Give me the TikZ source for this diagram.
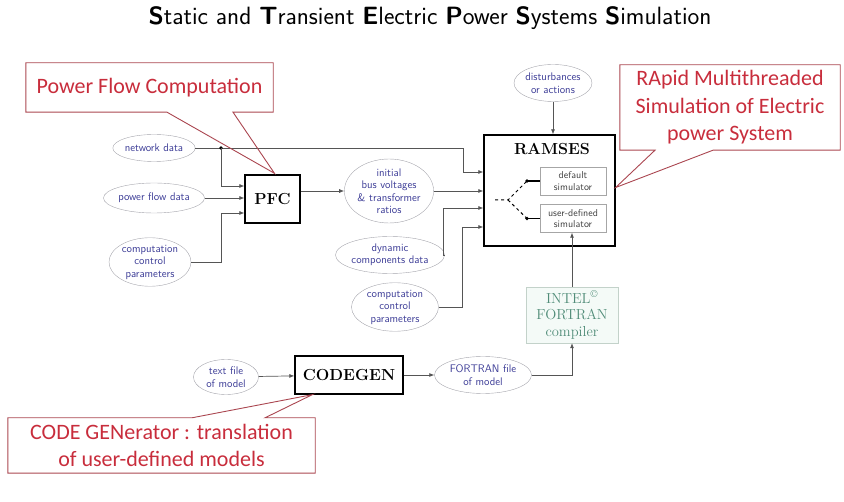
\documentclass[tikz,border=0pt]{standalone}
\usepackage{fontspec}
\newfontfamily\calibri{Carlito}
\usetikzlibrary{shapes.geometric, arrows.meta, calc}
\definecolor{inkblue}{RGB}{60, 60, 150}
\definecolor{ovalgray}{RGB}{165, 165, 172}
\definecolor{wiregray}{RGB}{85, 85, 85}
\definecolor{noteborder}{RGB}{170, 70, 80}
\definecolor{notetext}{RGB}{200, 45, 60}
\definecolor{inteltext}{RGB}{80, 140, 120}
\definecolor{intelfill}{RGB}{244, 250, 247}
\definecolor{intelborder}{RGB}{195, 210, 202}

\begin{document}
\begin{tikzpicture}[x=1pt, y=-1pt,
  data/.style={ellipse, draw=ovalgray, text=inkblue, inner sep=0pt, align=center,
    font=\sffamily\fontsize{11}{12.5}\selectfont},
  block/.style={draw, line width=1.3pt, inner sep=0pt, font=\bfseries\fontsize{16}{18}\selectfont},
  simbox/.style={draw=gray!70, inner sep=0pt, align=center, minimum width=66pt, minimum height=28pt,
    text=black!75, font=\sffamily\fontsize{10}{11.5}\selectfont},
  wire/.style={draw=wiregray, line width=0.7pt},
  feed/.style={wire, -{Latex[length=5pt, width=4pt]}},
  note/.style={text=notetext, align=center, inner sep=0pt, font=\calibri\fontsize{22}{27.5}\selectfont},
  notebox/.style={draw=noteborder, line width=0.9pt}
]
  \useasboundingbox (0,0) rectangle (844,502);

  % titre
  \node (title) at (430,18)
    {\sffamily\fontsize{25}{28}\selectfont \textbf{S}tatic and \textbf{T}ransient \textbf{E}lectric \textbf{P}ower \textbf{S}ystems \textbf{S}imulation};

  % blocs
  \node[block, minimum width=55pt, minimum height=48pt] (pfc) at (272.5,199) {PFC};
  \node[block, minimum width=131pt, minimum height=111pt] (ramses) at (549.5,190.5) {};
  \node[font=\bfseries\fontsize{16}{18}\selectfont] (ramsestitle) at (552,149) {RAMSES};
  \node[simbox] (defsim) at (573,181) {default\\simulator};
  \node[simbox] (usersim) at (573,218.5) {user-defined\\simulator};
  \node[block, minimum width=108pt, minimum height=38pt] (codegen) at (349,375) {CODEGEN};
  \node[draw=intelborder, fill=intelfill, text=inteltext, align=center, inner sep=0pt,
        minimum width=92pt, minimum height=56pt, font=\fontsize{14.5}{16.5}\selectfont] (intel) at (572,315)
    {INTEL\textsuperscript{\textcopyright}\\FORTRAN\\compiler};

  % donnees
  \node[data, minimum width=80pt, minimum height=27pt] (net) at (154,148) {network data};
  \node[data, minimum width=88pt, minimum height=30pt] (pfdata) at (154,198) {power flow data};
  \node[data, minimum width=82pt, minimum height=46pt] (ctrlpfc) at (150,262) {computation\\control\\parameters};
  \node[data, minimum width=78pt, minimum height=62pt] (initv) at (389,191) {initial\\bus voltages\\\& transformer\\ratios};
  \node[data, minimum width=97pt, minimum height=37pt] (dyn) at (390,255) {dynamic\\components data};
  \node[data, minimum width=87pt, minimum height=45pt] (ctrlram) at (395,307) {computation\\control\\parameters};
  \node[data, minimum width=78pt, minimum height=37pt] (dist) at (553,83) {disturbances\\or actions};
  \node[data, minimum width=65pt, minimum height=35pt] (txtmodel) at (226,377) {text file\\of model};
  \node[data, minimum width=97pt, minimum height=37pt] (ftnfile) at (483,375) {FORTRAN file\\of model};

  % entrees PFC
  \coordinate (jn) at (221,148);
  \draw[feed] (net.east) -- (463,148) |- (ramses.west |- 0,172);
  \fill[black] (jn) circle (1.8);
  \draw[feed] (jn) |- (pfc.west |- 0,186);
  \draw[feed] (pfdata) -- (pfc.west |- pfdata);
  \draw[feed] (ctrlpfc.east) -- (221,262) |- (pfc.west |- 0,213);

  % entrees RAMSES
  \draw[feed] (pfc.east |- initv) -- (initv);
  \draw[feed] (initv.east) -- (ramses.west |- initv.east);
  \draw[feed] (dyn.east) -- (443,255) |- (ramses.west |- 0,208);
  \draw[feed] (ctrlram.east) -- (462,307) |- (ramses.west |- 0,227);
  \draw[feed] (dist) -- (ramses.north -| dist);

  % aiguillage
  \coordinate (fk0) at (495,200);
  \coordinate (fk) at (508,200);
  \coordinate (fa) at (527,181);
  \coordinate (fb) at (527,218.5);
  \draw[dashed, line width=1pt] (fk0) -- (fk) -- (fa);
  \draw[dashed, line width=1pt] (fk) -- (fb);
  \fill (fa) circle (1.8);
  \fill (fb) circle (1.8);
  \draw[line width=1.3pt] (fa) -- (defsim.west |- fa);
  \draw[line width=1.3pt] (fb) -- (usersim.west |- fb);

  % CODEGEN
  \draw[feed] (txtmodel) -- (codegen);
  \draw[feed] (codegen) -- (ftnfile);
  \draw[feed] (ftnfile.east) -| (intel.south);
  \draw[feed] (intel.north) -- (intel.north |- usersim.south);

  % bulles
  \node[note, minimum width=247pt, minimum height=49pt] (pfcnote) at (149.5,87.5) {Power Flow Computation};
  \coordinate (pfctip) at ($(pfc.north)+(2,-1)$);
  \draw[notebox] (pfcnote.north west) -- (pfcnote.north east) -- (pfcnote.south east)
    -- (pfcnote.south -| 233,0) -- (pfctip) -- (pfcnote.south -| 167,0) -- (pfcnote.south west) -- cycle;

  \node[note, minimum width=220pt, minimum height=85pt] (ramnote) at (730,107.5)
    {RApid Multithreaded\\Simulation of Electric\\power System};
  \coordinate (ramtip) at ($(ramses.east)+(0,-3)$);
  \draw[notebox] (ramnote.north west) -- (ramnote.north east) -- (ramnote.south east)
    -- (ramnote.south -| 713,0) -- (ramtip) -- (ramnote.south -| 655,0) -- (ramnote.south west) -- cycle;

  \node[note, minimum width=307pt, minimum height=55pt] (cgnote) at (161.5,445.5)
    {CODE GENerator : translation\\of user-defined models};
  \coordinate (cgtip) at ($(codegen.south west)+(18,0)$);
  \draw[notebox] (cgnote.north west) -- (cgnote.north -| 192,0) -- (cgtip) -- (cgnote.north -| 265,0)
    -- (cgnote.north east) -- (cgnote.south east) -- (cgnote.south west) -- cycle;
\end{tikzpicture}
\end{document}
